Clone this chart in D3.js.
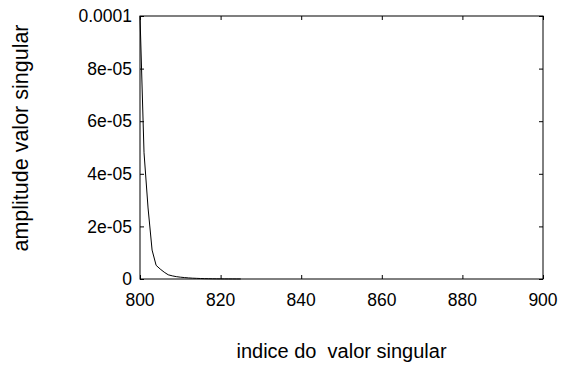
<!DOCTYPE html>
<html>
<head>
<meta charset="utf-8">
<script src="https://cdn.jsdelivr.net/npm/d3@7"></script>
<style>
  html, body { margin: 0; padding: 0; background: #fff; }
  svg { display: block; }
  text { font-family: "Liberation Sans", Arial, sans-serif; fill: #000; }
</style>
</head>
<body>
<script>
// Singular value index and its amplitude
const indices = [800, 801, 802, 803, 804, 805, 806, 807, 808, 809, 810,
                 811, 812, 813, 814, 815, 816, 817, 818, 819, 820,
                 821, 822, 823, 824, 825];
const amplitudes = [1.0e-4, 4.8e-5, 2.7e-5, 1.1e-5, 5.2e-6, 3.8e-6, 2.6e-6, 1.6e-6, 1.2e-6, 9e-7, 7e-7,
                    5.5e-7, 4.2e-7, 3.2e-7, 2.5e-7, 1.9e-7, 1.4e-7, 1.1e-7, 8e-8, 6e-8, 4.5e-8,
                    3.5e-8, 2.7e-8, 2.0e-8, 1.5e-8, 1.2e-8];

const xTicks = [800, 820, 840, 860, 880, 900];
const yTicks = [0, 2e-5, 4e-5, 6e-5, 8e-5, 1e-4];
const yTickLabels = ["0", "2e-05", "4e-05", "6e-05", "8e-05", "0.0001"];

const xTitle = "indice do  valor singular";
const yTitle = "amplitude valor singular";

const W = 564, H = 365;
const margin = { left: 140, right: 21, top: 16, bottom: 86 };
const iw = W - margin.left - margin.right;
const ih = H - margin.top - margin.bottom;

const svg = d3.select("body").append("svg").attr("width", W).attr("height", H);
const g = svg.append("g").attr("transform", `translate(${margin.left},${margin.top})`);

const x = d3.scaleLinear().domain([800, 900]).range([0, iw]);
const y = d3.scaleLinear().domain([0, 1e-4]).range([ih, 0]);

const tickFs = 17.5;

// ticks pointing inward, mirrored on all four sides
const tickLen = 4;
const axisStyle = sel => {
  sel.select(".domain").remove();
  sel.selectAll(".tick line").attr("stroke", "#000").attr("stroke-width", 1);
  sel.selectAll("text").remove();
};

g.append("g").attr("transform", `translate(0,${ih})`)
  .call(d3.axisTop(x).tickValues(xTicks).tickSize(tickLen)).call(axisStyle);
g.append("g")
  .call(d3.axisBottom(x).tickValues(xTicks).tickSize(tickLen)).call(axisStyle);
g.append("g")
  .call(d3.axisRight(y).tickValues(yTicks).tickSize(tickLen)).call(axisStyle);
g.append("g").attr("transform", `translate(${iw},0)`)
  .call(d3.axisLeft(y).tickValues(yTicks).tickSize(tickLen)).call(axisStyle);

// tick labels
g.append("g").selectAll("text").data(xTicks).join("text")
  .attr("x", d => x(d)).attr("y", ih + 27)
  .attr("text-anchor", "middle").attr("font-size", tickFs)
  .text(d => d);

g.append("g").selectAll("text").data(yTicks).join("text")
  .attr("x", -8).attr("y", d => y(d))
  .attr("dy", "0.35em")
  .attr("text-anchor", "end").attr("font-size", tickFs)
  .text((d, i) => yTickLabels[i]);

// border
g.append("rect").attr("x", 0).attr("y", 0).attr("width", iw).attr("height", ih)
  .attr("fill", "none").attr("stroke", "#000").attr("stroke-width", 1);

// curve
const line = d3.line().x((d, i) => x(indices[i])).y(d => y(d));
g.append("path").datum(amplitudes)
  .attr("fill", "none").attr("stroke", "#000").attr("stroke-width", 1)
  .attr("d", line);

// axis titles
svg.append("text")
  .attr("x", margin.left + iw / 2).attr("y", 358)
  .attr("text-anchor", "middle").attr("font-size", 20)
  .style("white-space", "pre")
  .text(xTitle);

svg.append("text")
  .attr("transform", `translate(28,138) rotate(-90)`)
  .attr("text-anchor", "middle").attr("font-size", 21.5)
  .text(yTitle);
</script>
</body>
</html>
